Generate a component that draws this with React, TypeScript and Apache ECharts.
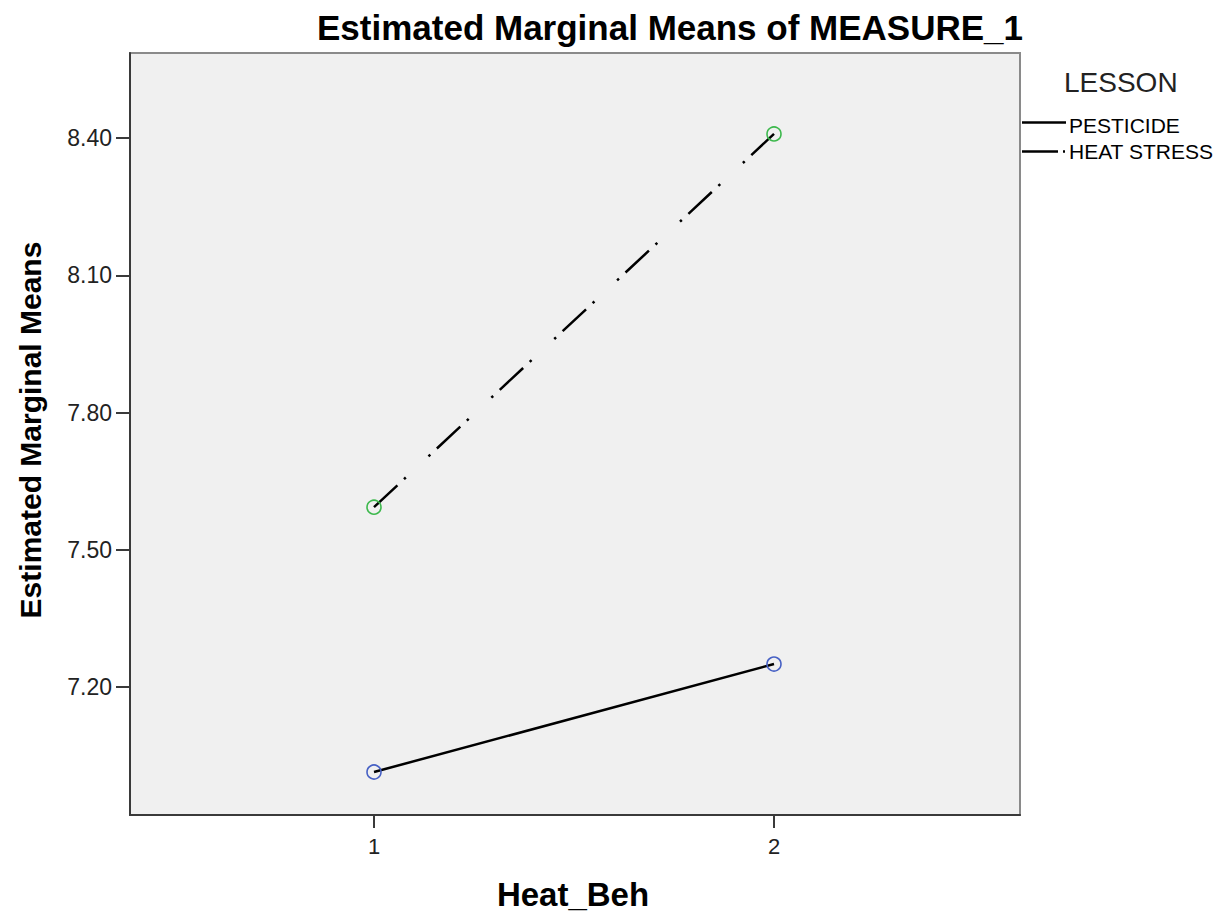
import React, { useEffect, useRef } from "react";
import * as echarts from "echarts";

const seriesNames = ["PESTICIDE", "HEAT STRESS"];
const xValues = [1, 2];
const pesticideValues = [7.014, 7.25];
const heatStressValues = [7.593, 8.409];
const yTicks = [7.2, 7.5, 7.8, 8.1, 8.4];
const xTicks = [1, 2];
const markerColors = ["#4660c4", "#3cb84c"];

const FONT = "'Liberation Sans', Arial, sans-serif";

export default function App() {
  const ref = useRef<HTMLDivElement>(null);
  useEffect(() => {
    if (!ref.current) return;
    const chart = echarts.init(ref.current, null, { renderer: "svg" });
    const mk = (vals: number[]) => xValues.map((x, i) => [x, vals[i]]);
    const option: any = {
      animation: false,
      backgroundColor: "#ffffff",
      grid: {
        left: 130,
        right: 209,
        top: 53,
        bottom: 101,
        show: true,
        backgroundColor: "#f0f0f0",
        borderColor: "#8a8a8a",
        borderWidth: 2,
        containLabel: false,
        outerBoundsMode: "none",
      },
      xAxis: {
        type: "value",
        min: 0.39,
        max: 2.615,
        splitLine: { show: false },
        axisLine: { show: true, onZero: false, lineStyle: { color: "#3a3a3a", width: 2 } },
        axisTick: { show: true, length: 13, customValues: xTicks, lineStyle: { color: "#3a3a3a", width: 2 } },
        axisLabel: {
          customValues: xTicks,
          fontSize: 22,
          color: "#222",
          fontFamily: FONT,
          margin: 20,
        },
      },
      yAxis: {
        type: "value",
        min: 6.92,
        max: 8.586,
        splitLine: { show: false },
        axisLine: { show: true, lineStyle: { color: "#3a3a3a", width: 2 } },
        axisTick: { show: true, length: 14, customValues: yTicks, lineStyle: { color: "#3a3a3a", width: 2 } },
        axisLabel: {
          customValues: yTicks,
          fontSize: 23,
          color: "#222",
          fontFamily: FONT,
          margin: 18,
          formatter: (v: number) => v.toFixed(2),
        },
      },
      series: [
        {
          name: seriesNames[0],
          type: "line",
          data: mk(pesticideValues),
          symbol: "circle",
          symbolSize: 14,
          itemStyle: { color: "transparent", borderColor: markerColors[0], borderWidth: 1.6 },
          lineStyle: { color: "#000", width: 2.5, type: "solid" },
          z: 3,
        },
        {
          name: seriesNames[1],
          type: "line",
          data: mk(heatStressValues),
          symbol: "circle",
          symbolSize: 14,
          itemStyle: { color: "transparent", borderColor: markerColors[1], borderWidth: 1.6 },
          lineStyle: { color: "#000", width: 2.5, type: [32, 9, 2.5, 31, 2.5, 9], cap: "butt" },
          z: 3,
        },
      ],
      graphic: [
        {
          type: "text",
          x: 670,
          y: 27,
          style: {
            text: "Estimated Marginal Means of MEASURE_1",
            font: `bold 35px ${FONT}`,
            fill: "#000",
            textAlign: "center",
            textVerticalAlign: "middle",
          },
        },
        {
          type: "text",
          x: 30,
          y: 430,
          rotation: Math.PI / 2,
          style: {
            text: "Estimated Marginal Means",
            font: `bold 30px ${FONT}`,
            fill: "#000",
            textAlign: "center",
            textVerticalAlign: "middle",
          },
        },
        {
          type: "text",
          x: 573,
          y: 894,
          style: {
            text: "Heat_Beh",
            font: `bold 33px ${FONT}`,
            fill: "#000",
            textAlign: "center",
            textVerticalAlign: "middle",
          },
        },
        {
          type: "text",
          x: 1064,
          y: 82,
          style: {
            text: "LESSON",
            font: `28px ${FONT}`,
            fill: "#222",
            textAlign: "left",
            textVerticalAlign: "middle",
          },
        },
        {
          type: "line",
          shape: { x1: 1022, y1: 122.5, x2: 1066, y2: 122.5 },
          style: { stroke: "#000", lineWidth: 2.5 },
        },
        {
          type: "text",
          x: 1069,
          y: 125,
          style: {
            text: seriesNames[0],
            font: `21px ${FONT}`,
            fill: "#000",
            textAlign: "left",
            textVerticalAlign: "middle",
          },
        },
        {
          type: "line",
          shape: { x1: 1022, y1: 151.5, x2: 1066, y2: 151.5 },
          style: { stroke: "#000", lineWidth: 2.5, lineDash: [36, 5, 2, 10] },
        },
        {
          type: "text",
          x: 1069,
          y: 151,
          style: {
            text: seriesNames[1],
            font: `21px ${FONT}`,
            fill: "#000",
            textAlign: "left",
            textVerticalAlign: "middle",
          },
        },
      ],
    };
    chart.setOption(option);
    return () => chart.dispose();
  }, []);
  return (
    <div
      ref={ref}
      style={{ position: "absolute", left: 0, top: 0, width: 1229, height: 916 }}
    />
  );
}
